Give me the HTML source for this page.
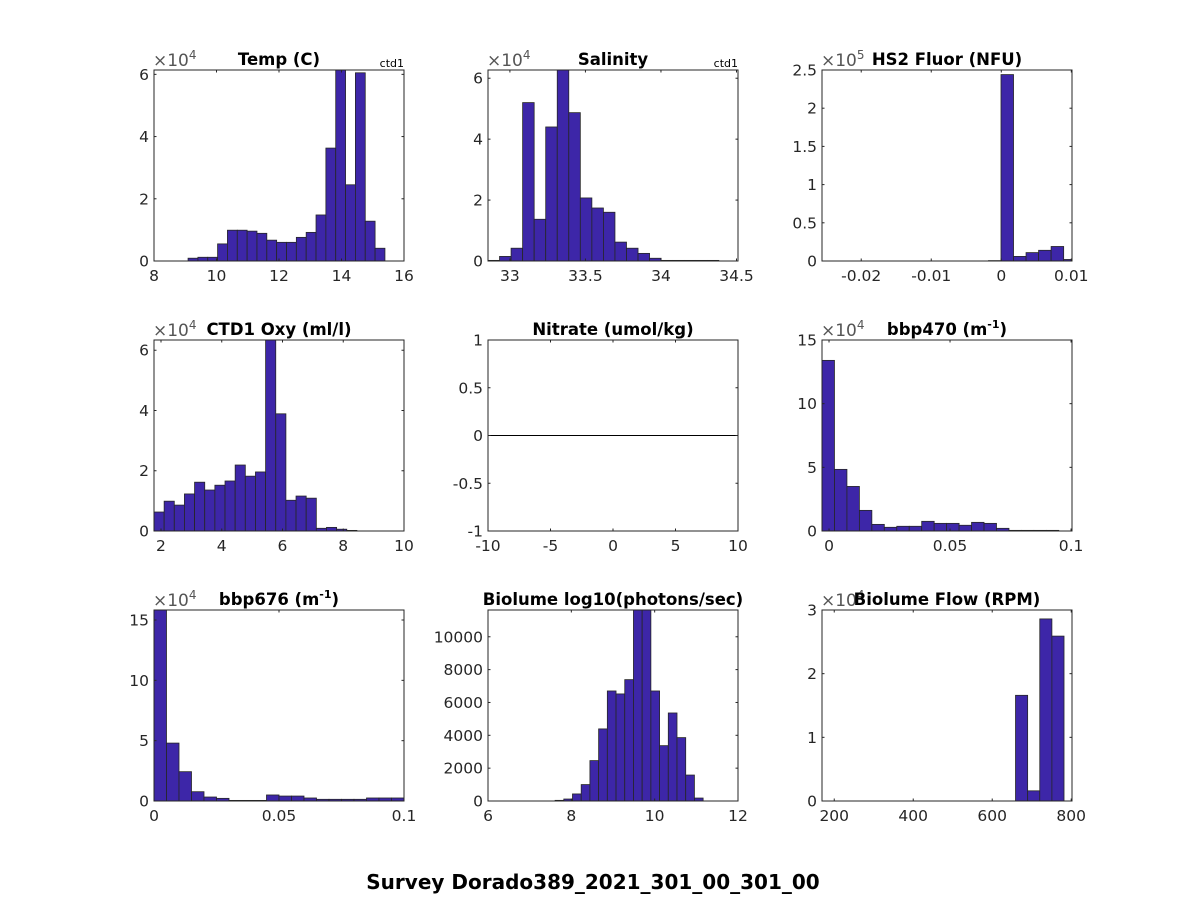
<!DOCTYPE html>
<html><head><meta charset="utf-8"><style>
html,body{margin:0;padding:0;background:#fff;}
svg{display:block;font-family:"DejaVu Sans","Liberation Sans",sans-serif;}
</style></head><body>
<svg id="fig" width="1188" height="900" viewBox="0 0 1188 900">
<rect width="1188" height="900" fill="#fff"/>
<text x="593" y="889" text-anchor="middle" font-size="20" font-weight="bold" fill="#000">Survey Dorado389_2021_301_00_301_00</text>
</svg>
<script>
// ---- data arrays ----
const tempCounts = [0.09,0.12,0.12,0.55,0.99,0.99,0.96,0.89,0.67,0.60,0.60,0.76,0.92,1.48,3.63,6.14,2.45,6.05,1.28,0.41];
const salCounts = [0.02,0.15,0.42,5.2,1.37,4.4,6.27,4.87,2.07,1.74,1.6,0.62,0.42,0.25,0.09,0.02,0.02,0.02,0.02,0.02];
const fluorCounts = [0.005,2.44,0.06,0.11,0.14,0.19,0.02];
const oxyCounts = [0.63,0.99,0.86,1.23,1.62,1.36,1.52,1.66,2.19,1.82,1.96,6.5,3.89,1.02,1.16,1.09,0.09,0.12,0.06,0.02];
const nitrateCounts = [];
const bbp470Counts = [13.4,4.84,3.5,1.62,0.52,0.29,0.37,0.37,0.76,0.6,0.6,0.45,0.68,0.6,0.21,0.05,0.05,0.05,0.05];
const bbp676Counts = [16.5,4.8,2.43,0.77,0.33,0.22,0.05,0.05,0.05,0.5,0.41,0.41,0.25,0.14,0.14,0.14,0.14,0.25,0.25,0.25];
const bioCounts = [40,120,430,1000,2460,4390,6700,6520,7390,11800,11800,6700,3370,5360,3860,1580,180];
const flowCounts = [1.66,0.16,2.86,2.59];
const tempXTicks = [8,10,12,14,16], tempYTicks = [0,2,4,6];
const salXTicks = [33,33.5,34,34.5], salYTicks = [0,2,4,6];
const fluorXTicks = [-0.02,-0.01,0,0.01], fluorYTicks = [0,0.5,1,1.5,2,2.5];
const oxyXTicks = [2,4,6,8,10], oxyYTicks = [0,2,4,6];
const nitXTicks = [-10,-5,0,5,10], nitYTicks = [-1,-0.5,0,0.5,1];
const bbp470XTicks = [0,0.05,0.1], bbp470YTicks = [0,5,10,15];
const bbp676XTicks = [0,0.05,0.1], bbp676YTicks = [0,5,10,15];
const bioXTicks = [6,8,10,12], bioYTicks = [0,2000,4000,6000,8000,10000];
const flowXTicks = [200,400,600,800], flowYTicks = [0,1,2,3];

const NS = "http://www.w3.org/2000/svg";
const svg = document.getElementById('fig');
function mk(tag, attrs, parent){const e=document.createElementNS(NS,tag);for(const k in attrs)e.setAttribute(k,attrs[k]);(parent||svg).appendChild(e);return e;}

const cols=[154,488,822], rows=[70,340,610], W=250, H=191;
const panels=[
 {name:'temp',title:'Temp (C)',c:0,r:0,xlim:[8,16],ylim:[0,6.14],xt:tempXTicks,yt:tempYTicks,exp:'4',start:9.09,bw:0.315,counts:tempCounts,tag:'ctd1'},
 {name:'salinity',title:'Salinity',c:1,r:0,xlim:[32.855,34.51],ylim:[0,6.27],xt:salXTicks,yt:salYTicks,exp:'4',start:32.855,bw:0.0764,counts:salCounts,tag:'ctd1'},
 {name:'hs2-fluor',title:'HS2 Fluor (NFU)',c:2,r:0,xlim:[-0.0256,0.0101],ylim:[0,2.5],xt:fluorXTicks,yt:fluorYTicks,exp:'5',start:-0.00183,bw:0.00179,counts:fluorCounts},
 {name:'ctd1-oxy',title:'CTD1 Oxy (ml/l)',c:0,r:1,xlim:[1.77,10],ylim:[0,6.34],xt:oxyXTicks,yt:oxyYTicks,exp:'4',start:1.77,bw:0.334,counts:oxyCounts},
 {name:'nitrate',title:'Nitrate (umol/kg)',c:1,r:1,xlim:[-10,10],ylim:[-1,1],xt:nitXTicks,yt:nitYTicks,exp:null,start:0,bw:1,counts:nitrateCounts,zeroLine:true},
 {name:'bbp470',title:'bbp470 (m',sup:'-1',c:2,r:1,xlim:[-0.0029,0.1004],ylim:[0,15],xt:bbp470XTicks,yt:bbp470YTicks,exp:'4',start:-0.0029,bw:0.00515,counts:bbp470Counts},
 {name:'bbp676',title:'bbp676 (m',sup:'-1',c:0,r:2,xlim:[0,0.1],ylim:[0,15.83],xt:bbp676XTicks,yt:bbp676YTicks,exp:'4',start:0,bw:0.005,counts:bbp676Counts},
 {name:'biolume',title:'Biolume log10(photons/sec)',c:1,r:2,xlim:[6,12],ylim:[0,11630],xt:bioXTicks,yt:bioYTicks,exp:null,start:7.61,bw:0.209,counts:bioCounts},
 {name:'biolume-flow',title:'Biolume Flow (RPM)',c:2,r:2,xlim:[169,802],ylim:[0,3],xt:flowXTicks,yt:flowYTicks,exp:'4',start:659,bw:30.7,counts:flowCounts}
];

panels.forEach(p=>{
  const L=cols[p.c], T=rows[p.r];
  const g=mk('g',{});
  
  
  const sx=v=>L+(v-p.xlim[0])/(p.xlim[1]-p.xlim[0])*W;
  const sy=v=>T+H-(v-p.ylim[0])/(p.ylim[1]-p.ylim[0])*H;
  const cid='clip-'+p.name;
  const cp=mk('clipPath',{id:cid},g); mk('rect',{x:L,y:T,width:W,height:H},cp);
  const bars=mk('g',{'clip-path':'url(#'+cid+')'},g);
  p.counts.forEach((v,i)=>{
    const x0=sx(p.start+i*p.bw), x1=sx(p.start+(i+1)*p.bw);
    const y0=sy(0), y1=sy(v);
    const b=mk('rect',{x:x0,y:y1,width:x1-x0,height:y0-y1,fill:'#3d26a8',stroke:'#262626','stroke-width':0.8},bars);
    
    
  });
  if(p.zeroLine){const zl=mk('line',{x1:L,x2:L+W,y1:sy(0),y2:sy(0),stroke:'#000','stroke-width':1},g);
    
    }
  const box=mk('rect',{x:L,y:T,width:W,height:H,fill:'none',stroke:'#262626','stroke-width':1},g);
  
  
  p.xt.forEach(t=>{
    const x=sx(t);
    mk('line',{x1:x,x2:x,y1:T+H,y2:T+H-2.5,stroke:'#262626'},g);
    mk('line',{x1:x,x2:x,y1:T,y2:T+2.5,stroke:'#262626'},g);
    const tx=mk('text',{x:x,y:T+H+20,'text-anchor':'middle','font-size':15.5,fill:'#262626'},g);
    tx.textContent=String(t);
    
    
  });
  p.yt.forEach(t=>{
    const y=sy(t);
    mk('line',{x1:L,x2:L+2.5,y1:y,y2:y,stroke:'#262626'},g);
    mk('line',{x1:L+W,x2:L+W-2.5,y1:y,y2:y,stroke:'#262626'},g);
    const tx=mk('text',{x:L-5,y:y+5.5,'text-anchor':'end','font-size':15.5,fill:'#262626'},g);
    tx.textContent=String(t);
    
    
  });
  if(p.exp){
    const ex=mk('text',{x:L-1,y:T-4,'font-size':17,fill:'#555'},g);
    ex.textContent='\u00d710';
    const s=mk('tspan',{dy:-7,'font-size':12},ex); s.textContent=p.exp;
    
    
  }
  const tt=mk('text',{x:L+W/2,y:T-5,'text-anchor':'middle','font-size':16.5,'font-weight':'bold',fill:'#000'},g);
  tt.textContent=p.title;
  if(p.sup){const s=mk('tspan',{dy:-7,'font-size':11},tt); s.textContent=p.sup; const s2=mk('tspan',{dy:7},tt); s2.textContent=')';}
  
  
  if(p.tag){const tg=mk('text',{x:L+W,y:T-3,'text-anchor':'end','font-size':11,fill:'#000'},g);
    tg.textContent=p.tag;
    
    }
});
</script>
</body></html>
